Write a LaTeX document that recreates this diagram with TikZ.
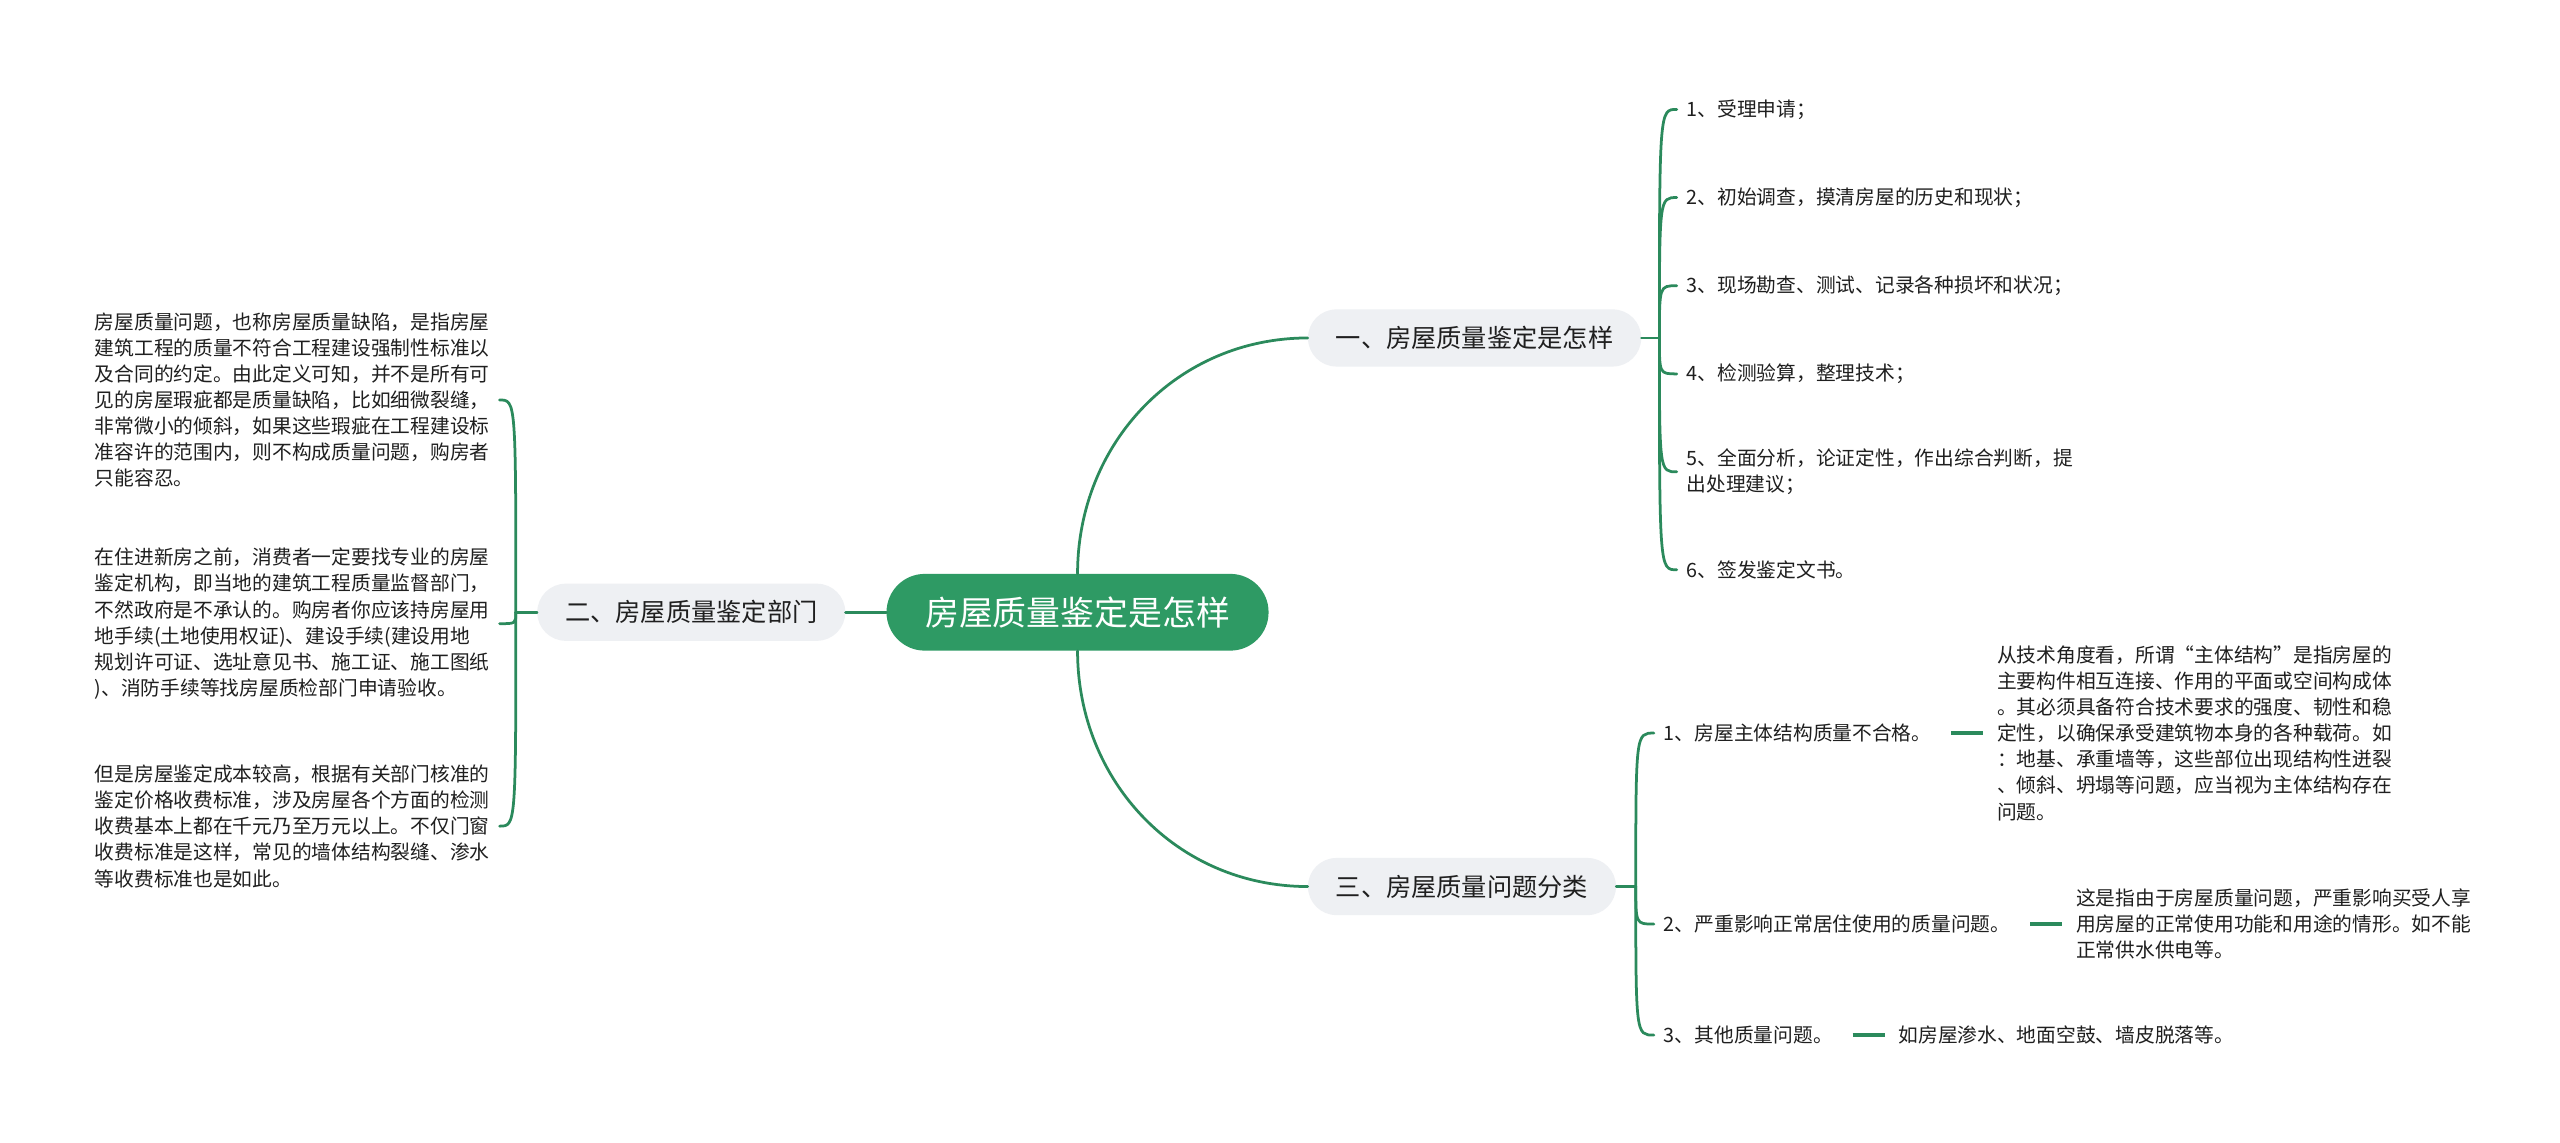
\documentclass[tikz,border=0pt]{standalone}
\usepackage{fontspec}
\setmainfont{Noto Sans CJK SC}
\usetikzlibrary{positioning}
\definecolor{mmgreen}{HTML}{2E9A64}
\definecolor{mmline}{HTML}{2B8A5C}
\definecolor{mmgray}{HTML}{EEF0F3}
\definecolor{mmtext}{HTML}{1F1F1F}

\begin{document}
\begin{tikzpicture}[x=0.05cm,y=-0.05cm,node distance=1.4cm,
    every node/.style={text=mmtext},
    root/.style={fill=mmgreen,text=white,rounded corners=1.17cm,
        minimum width=11.7cm,minimum height=2.35cm,
        font=\fontsize{29.5}{32}\selectfont},
    topic/.style={fill=mmgray,rounded corners=0.87cm,minimum height=1.75cm,
        inner xsep=0.85cm,font=\fontsize{22}{26}\selectfont},
    item/.style={inner xsep=0.3cm,inner ysep=0pt,align=left,
        font=\fontsize{17.2}{22.8}\selectfont},
    link/.style={draw=mmline,line width=2.4pt,line cap=round},
    leaf/.style={link,line width=3.2pt,line cap=butt,
        shorten <=0.3cm,shorten >=0.12cm}]
    \path[fill=white] (0,0) rectangle (1568,700);

    \node[root] (root) at (660,375) {房屋质量鉴定是怎样};
    \node[topic,anchor=west] (A) at (801,207) {一、房屋质量鉴定是怎样};
    \node[topic,left=1.25cm of root] (B) {二、房屋质量鉴定部门};
    \node[topic,anchor=west] (C) at (801,543) {三、房屋质量问题分类};

    % 一
    \node[item,anchor=west] (A1) at (1027,67) {1、受理申请；};
    \node[item,anchor=west] (A2) at (1027,121) {2、初始调查，摸清房屋的历史和现状；};
    \node[item,anchor=west] (A3) at (1027,175) {3、现场勘查、测试、记录各种损坏和状况；};
    \node[item,anchor=west] (A4) at (1027,229) {4、检测验算，整理技术；};
    \node[item,anchor=west] (A5) at (1027,289)
        {5、全面分析，论证定性，作出综合判断，提\\出处理建议；};
    \node[item,anchor=west] (A6) at (1027,349) {6、签发鉴定文书。};

    % 二
    \node[item,anchor=east] (B1) at (306,245)
        {房屋质量问题，也称房屋质量缺陷，是指房屋\\
         建筑工程的质量不符合工程建设强制性标准以\\
         及合同的约定。由此定义可知，并不是所有可\\
         见的房屋瑕疵都是质量缺陷，比如细微裂缝，\\
         非常微小的倾斜，如果这些瑕疵在工程建设标\\
         准容许的范围内，则不构成质量问题，购房者\\
         只能容忍。};
    \node[item,anchor=east] (B2) at (306,382)
        {在住进新房之前，消费者一定要找专业的房屋\\
         鉴定机构，即当地的建筑工程质量监督部门，\\
         不然政府是不承认的。购房者你应该持房屋用\\
         地手续(土地使用权证)、建设手续(建设用地\\
         规划许可证、选址意见书、施工证、施工图纸\\
         )、消防手续等找房屋质检部门申请验收。};
    \node[item,anchor=east] (B3) at (306,506)
        {但是房屋鉴定成本较高，根据有关部门核准的\\
         鉴定价格收费标准，涉及房屋各个方面的检测\\
         收费基本上都在千元乃至万元以上。不仅门窗\\
         收费标准是这样，常见的墙体结构裂缝、渗水\\
         等收费标准也是如此。};

    % 三
    \node[item,anchor=west] (C1) at (1013,449) {1、房屋主体结构质量不合格。};
    \node[item,anchor=west] (C2) at (1013,566) {2、严重影响正常居住使用的质量问题。};
    \node[item,anchor=west] (C3) at (1013,634) {3、其他质量问题。};
    \node[item,right=of C1] (C1d)
        {从技术角度看，所谓“主体结构”是指房屋的\\
         主要构件相互连接、作用的平面或空间构成体\\
         。其必须具备符合技术要求的强度、韧性和稳\\
         定性，以确保承受建筑物本身的各种载荷。如\\
         ：地基、承重墙等，这些部位出现结构性迸裂\\
         、倾斜、坍塌等问题，应当视为主体结构存在\\
         问题。};
    \node[item,right=of C2] (C2d)
        {这是指由于房屋质量问题，严重影响买受人享\\
         用房屋的正常使用功能和用途的情形。如不能\\
         正常供水供电等。};
    \node[item,right=of C3] (C3d) {如房屋渗水、地面空鼓、墙皮脱落等。};

    % connectors
    \draw[link] (root.west) -- (B.east);
    \draw[link] (root.north) .. controls +(0,-80) and +(-80,0) .. (A.west);
    \draw[link] (root.south) .. controls +(0,80) and +(-80,0) .. (C.west);

    \draw[link] (A.east) -- ++(11,0) coordinate (Aj);
    \foreach \n in {A1,A2,A3,A4,A5,A6}
        \draw[link] (Aj) .. controls (Aj |- \n.west) and (Aj |- \n.west) .. (\n.west);
    \draw[link] (B.west) -- ++(-13,0) coordinate (Bj);
    \foreach \n in {B1,B2,B3}
        \draw[link] (Bj) .. controls (Bj |- \n.east) and (Bj |- \n.east) .. (\n.east);
    \draw[link] (C.east) -- ++(12,0) coordinate (Cj);
    \foreach \n in {C1,C2,C3}
        \draw[link] (Cj) .. controls (Cj |- \n.west) and (Cj |- \n.west) .. (\n.west);

    \draw[leaf] (C1) -- (C1d);
    \draw[leaf] (C2) -- (C2d);
    \draw[leaf] (C3) -- (C3d);
\end{tikzpicture}
\end{document}
